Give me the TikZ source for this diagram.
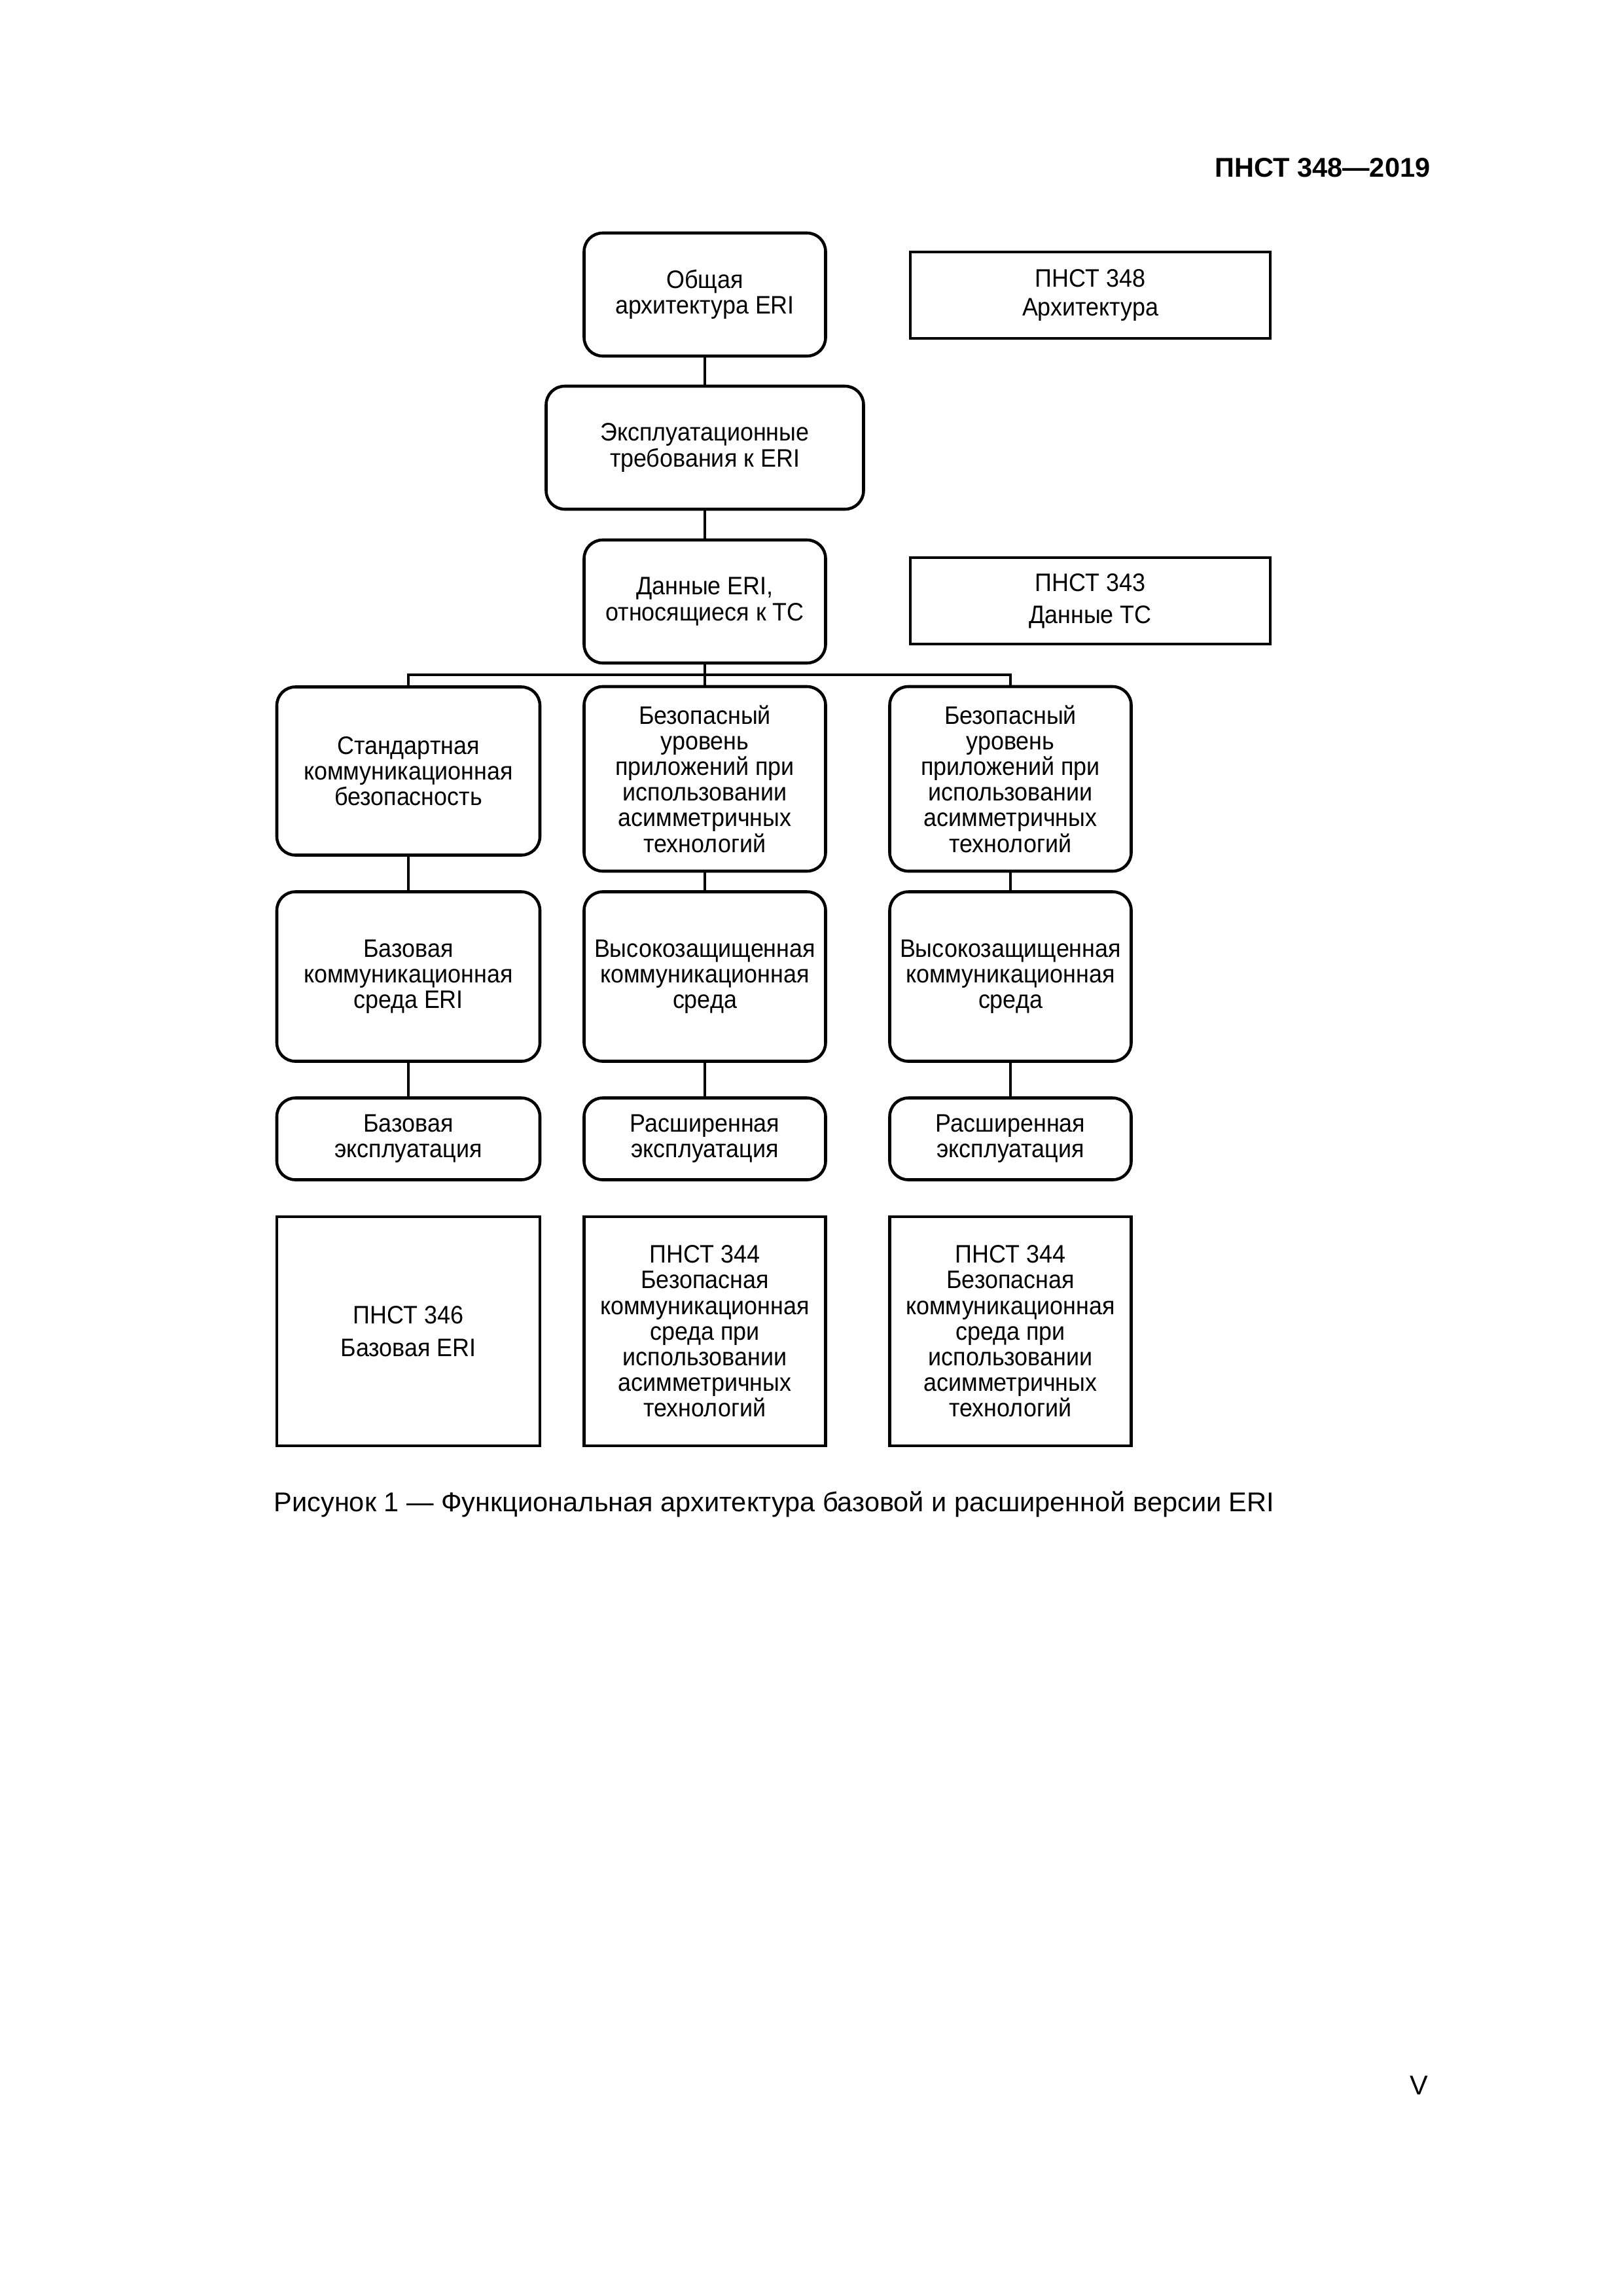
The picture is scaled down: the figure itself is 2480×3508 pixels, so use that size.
\documentclass[tikz,border=0pt]{standalone}
\usepackage{fontspec}
\setmainfont{Liberation Sans}
\newfontfamily\boxfont[FakeStretch=0.93]{Liberation Sans}
\usetikzlibrary{positioning}

\tikzset{
  rbox/.style={draw, line width=1.1pt, rounded corners=2.4mm, align=center,
    inner sep=0pt, font=\boxfont\fontsize{9.3}{9.45}\selectfont},
  sbox/.style={rbox, sharp corners},
  boxdim/.style 2 args={minimum width=#1*0.0846774mm, minimum height=#2*0.0846774mm},
  link/.style={line width=0.8pt},
}

\begin{document}
\begin{tikzpicture}[x=0.0846774mm, y=-0.0846774mm]
    \useasboundingbox (0,0) rectangle (2480,3508);

    \node[anchor=base east, font=\bfseries\fontsize{10}{12}\selectfont] (header) at (2200,270) {ПНСТ 348—2019};

    % upper chain
    \node[rbox, boxdim={369}{188}] (general) at (1077,450) {Общая\\архитектура ERI};
    \node[sbox, boxdim={550}{132}] (pnst348) at (1666,451) {ПНСТ 348\\[1.3pt]Архитектура};
    \node[rbox, boxdim={485}{188}] (operreq) at (1077,684) {Эксплуатационные\\требования к ERI};
    \node[rbox, boxdim={369}{188}] (eridata) at (1077,919) {Данные ERI,\\относящиеся к ТС};
    \node[sbox, boxdim={550}{132}] (pnst343) at (1666,918) {ПНСТ 343\\[2.3pt]Данные ТС};

    % three columns
    \node[rbox, boxdim={402}{257}] (sec1) at (624,1178) {Стандартная\\коммуникационная\\безопасность};
    \node[rbox, boxdim={369}{282}] (sec2) at (1077,1190) {Безопасный\\уровень\\приложений при\\использовании\\асимметричных\\технологий};
    \node[rbox, boxdim={369}{282}] (sec3) at (1544,1190) {Безопасный\\уровень\\приложений при\\использовании\\асимметричных\\технологий};

    \node[rbox, boxdim={402}{259}] (env1) at (624,1492) {Базовая\\коммуникационная\\среда ERI};
    \node[rbox, boxdim={369}{259}] (env2) at (1077,1492) {Высокозащищенная\\коммуникационная\\среда};
    \node[rbox, boxdim={369}{259}] (env3) at (1544,1492) {Высокозащищенная\\коммуникационная\\среда};

    \node[rbox, boxdim={402}{125}] (ops1) at (624,1740) {Базовая\\эксплуатация};
    \node[rbox, boxdim={369}{125}] (ops2) at (1077,1740) {Расширенная\\эксплуатация};
    \node[rbox, boxdim={369}{125}] (ops3) at (1544,1740) {Расширенная\\эксплуатация};

    \node[sbox, boxdim={402}{350}] (std1) at (624,2034) {ПНСТ 346\\[2.6pt]Базовая ERI};
    \node[sbox, boxdim={369}{350}] (std2) at (1077,2034) {ПНСТ 344\\Безопасная\\коммуникационная\\среда при\\использовании\\асимметричных\\технологий};
    \node[sbox, boxdim={369}{350}] (std3) at (1544,2034) {ПНСТ 344\\Безопасная\\коммуникационная\\среда при\\использовании\\асимметричных\\технологий};

    % connectors
    \coordinate (bus) at (1077,1031);
    \draw[link] (general.south) -- (operreq.north);
    \draw[link] (operreq.south) -- (eridata.north);
    \draw[link] (eridata.south) -- (sec2.north);
    \draw[link] (sec1.north) |- (bus) -| (sec3.north);
    \foreach \c in {1,2,3} {
        \draw[link] (sec\c.south) -- (env\c.north);
        \draw[link] (env\c.south) -- (ops\c.north);
    }

    \node[anchor=base west, font=\fontsize{10}{12}\selectfont] (caption) at (404,2309) {Рисунок 1 — Функциональная архитектура базовой и расширенной версии ERI};
    \node[anchor=base, font=\fontsize{10}{12}\selectfont] (pagenum) at (2168,3200) {V};
\end{tikzpicture}
\end{document}
